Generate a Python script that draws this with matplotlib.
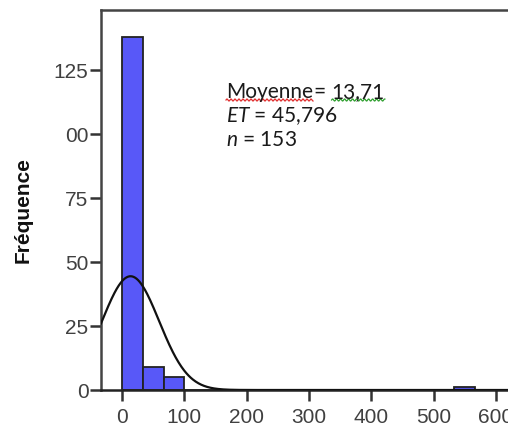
import numpy as np
import matplotlib
matplotlib.use("Agg")
import matplotlib.pyplot as plt
from matplotlib.lines import Line2D

# ---- data ----
bin_width = 100 / 3
bin_starts = [i * bin_width for i in range(18)]
counts = [138, 9, 5, 0, 0, 0, 0, 0, 0, 0, 0, 0, 0, 0, 0, 0, 1, 0]
mean_val = 13.71
sd_val = 45.796
n_val = 153
x_ticks = [0, 100, 200, 300, 400, 500, 600]
x_ticklabels = ["0", "100", "200", "300", "400", "500", "600"]
y_ticks = [0, 25, 50, 75, 100, 125]
y_ticklabels = ["0", "25", "50", "75", "00", "125"]
ylabel = "Fréquence"

plt.rcParams['mathtext.fontset'] = 'custom'
plt.rcParams['mathtext.rm'] = 'Lato'
plt.rcParams['mathtext.it'] = 'Lato:italic'

W, H = 508, 431
fig = plt.figure(figsize=(W / 100, H / 100), dpi=100)
fig.patch.set_facecolor('white')

xmin, xmax = -33.7, 650
ymin, ymax = 0, 148.4
left = 101 / W
bottom = 1 - 391 / H
width = (xmax - xmin) * 0.6233 / W
height = (391 - 11) / H
ax = fig.add_axes([left, bottom, width, height])
ax.set_xlim(xmin, xmax)
ax.set_ylim(ymin, ymax)

ax.bar(bin_starts, counts, width=bin_width, align='edge', color='#5858f8',
       edgecolor='#222222', linewidth=1.3, zorder=2)

xs = np.linspace(xmin, xmax, 600)
scale = n_val * bin_width
ys = scale / (sd_val * np.sqrt(2 * np.pi)) * np.exp(-0.5 * ((xs - mean_val) / sd_val) ** 2)
ax.plot(xs, ys, color='#111111', linewidth=1.6, zorder=3)

for s in ['left', 'bottom', 'top', 'right']:
    ax.spines[s].set_color('#444444')
    ax.spines[s].set_linewidth(1.8)
ax.spines['bottom'].set_color('#222222')

ax.set_xticks(x_ticks)
ax.set_xticklabels(x_ticklabels)
ax.set_yticks(y_ticks)
ax.set_yticklabels(y_ticklabels)
ax.tick_params(axis='both', direction='out', length=8, width=1.8, color='#333333',
               labelcolor='#404040', labelsize=15)
ax.tick_params(axis='y', pad=1)
ax.tick_params(axis='x', pad=4)
for lab in ax.get_xticklabels() + ax.get_yticklabels():
    lab.set_fontfamily('Liberation Sans')

fig.text(23 / W, 1 - 210 / H, ylabel, rotation=90, ha='center', va='center',
         fontsize=15, fontweight='bold', family='Liberation Sans', color='#111111')

# ---- annotation ----
renderer = fig.canvas.get_renderer()
fs = 15
tc = '#1a1a1a'
x0 = 226 / W
b1 = 1 - 98 / H
t1 = fig.text(x0, b1, "Moyenne", family='Lato', fontsize=fs, color=tc, va='baseline')
bb1 = t1.get_window_extent(renderer)
t2 = fig.text((bb1.x1 + 1) / W, b1, "= ", family='Lato', fontsize=fs, color=tc, va='baseline')
bb2 = t2.get_window_extent(renderer)
t3 = fig.text(bb2.x1 / W, b1, "13,71", family='Lato', fontsize=fs, color=tc, va='baseline')
bb3 = t3.get_window_extent(renderer)

def wavy(x_a, x_b, y_px, color):
    xx = np.linspace(x_a, x_b, 200)
    yy = y_px + 1.0 * np.sin((xx - x_a) / 4.0 * 2 * np.pi)
    fig.add_artist(Line2D(xx / W, yy / H, transform=fig.transFigure,
                          color=color, linewidth=0.9))

base_px = b1 * H
wavy(bb1.x0, bb1.x1, base_px - 3, '#e03030')
wavy(bb3.x0, bb3.x1, base_px - 3, '#30a030')

fig.text(x0, 1 - 122 / H, r"$\mathit{ET}$ = 45,796", family='Lato', fontsize=fs,
         color=tc, va='baseline')
fig.text(x0, 1 - 146 / H, r"$\mathit{n}$ = 153", family='Lato', fontsize=fs,
         color=tc, va='baseline')

fig.savefig('out.png', dpi=100, facecolor='white')
